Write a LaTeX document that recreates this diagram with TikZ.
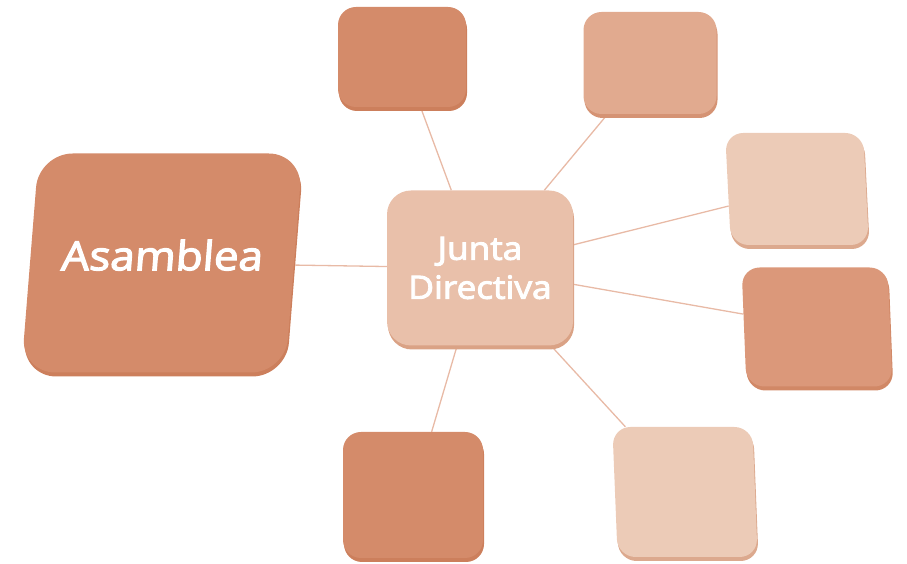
\documentclass[tikz,border=0pt]{standalone}
\usepackage{fontspec}
\newfontfamily\boxfont[FakeStretch=1.1,FakeBold=3]{Open Sans}
\usetikzlibrary{shadows,backgrounds}
\definecolor{cA}{RGB}{212,139,106}
\definecolor{cJ}{RGB}{233,192,170}
\definecolor{cMid}{RGB}{225,170,143}
\definecolor{cMidB}{RGB}{219,152,122}
\definecolor{cLight}{RGB}{236,203,183}
\definecolor{cEdge}{RGB}{190,105,65}
\definecolor{cLine}{RGB}{232,186,166}
\tikzset{
  orgbox/.style={fill=#1, draw=none, inner sep=0pt, rounded corners=18pt,
    drop shadow={shadow xshift=1pt, shadow yshift=-4pt, opacity=1, fill=#1!65!cEdge}},
  conn/.style={draw=cLine, line width=1.3pt},
  boxtext/.style={text=white, align=center}
}
\begin{document}
\begin{tikzpicture}[x=1pt,y=1pt]
\useasboundingbox (0,0) rectangle (907,564);
% main boxes
\node[orgbox=cA, minimum width=264pt, minimum height=219pt, rounded corners=34pt,
      xslant=0.08, text depth=16pt, boxtext,
      font=\boxfont\fontsize{40}{48}\selectfont] (asam) at (162,301) {Asamblea};
\node[orgbox=cJ, minimum width=186pt, minimum height=155pt, rounded corners=24pt,
      boxtext, font=\boxfont\fontsize{32}{39}\selectfont] (junta) at (480,296) {Junta\\Directiva};
% empty satellite boxes
\node[orgbox=cA, minimum width=128pt, minimum height=100pt] (b1) at (402,507) {};
\node[orgbox=cMid, minimum width=133pt, minimum height=102pt] (b2) at (650,501) {};
\node[orgbox=cLight, minimum width=138pt, minimum height=112pt, xslant=-0.05] (b3) at (797,375) {};
\node[orgbox=cMidB, minimum width=146pt, minimum height=119pt, xslant=-0.04] (b4) at (817,237) {};
\node[orgbox=cA, minimum width=140pt, minimum height=126pt] (b5) at (413,69) {};
\node[orgbox=cLight, minimum width=140pt, minimum height=130pt, xslant=-0.04] (b6) at (685,72) {};
% connectors
\begin{pgfonlayer}{background}
\draw[conn] (asam) -- (junta);
\draw[conn] (b1) -- (junta);
\draw[conn] (b2) -- (junta);
\draw[conn] (b3) -- (junta);
\draw[conn] (b4) -- (junta);
\draw[conn] (b5) -- (junta);
\draw[conn] (b6) -- (junta);
\end{pgfonlayer}
\end{tikzpicture}
\end{document}
